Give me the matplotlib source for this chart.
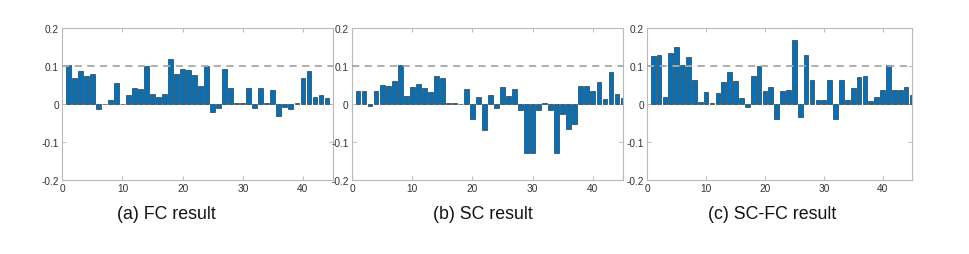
import numpy as np
import matplotlib.pyplot as plt

# values (bar index starts at 1)
fc_vals = [0.103, 0.069, 0.088, 0.073, 0.080, -0.013, 0.001, 0.012, 0.057, 0.0,
           0.025, 0.042, 0.041, 0.101, 0.027, 0.020, 0.027, 0.120, 0.080, 0.094,
           0.091, 0.076, 0.049, 0.101, -0.022, -0.011, 0.094, 0.042, 0.002, 0.002,
           0.042, -0.010, 0.042, 0.003, 0.037, -0.030, -0.008, -0.013, 0.002, 0.069,
           0.087, 0.019, 0.024, 0.017]
sc_vals = [0.035, 0.035, -0.005, 0.035, 0.050, 0.047, 0.061, 0.104, 0.022, 0.044,
           0.052, 0.043, 0.033, 0.073, 0.070, 0.002, 0.002, 0.001, 0.040, -0.040,
           0.020, -0.068, 0.023, -0.011, 0.044, 0.022, 0.040, -0.016, -0.130, -0.130,
           -0.016, 0.003, -0.016, -0.130, -0.027, -0.066, -0.053, 0.048, 0.047, 0.034,
           0.058, 0.014, 0.084, 0.027, 0.016]
scfc_vals = [0.126, 0.130, 0.020, 0.136, 0.151, 0.104, 0.125, 0.064, 0.005, 0.031,
             0.003, 0.030, 0.058, 0.085, 0.060, 0.015, -0.008, 0.073, 0.101, 0.035,
             0.044, -0.039, 0.035, 0.038, 0.169, -0.035, 0.129, 0.063, 0.012, 0.012,
             0.063, -0.039, 0.063, 0.012, 0.043, 0.072, 0.073, 0.007, 0.018, 0.036,
             0.103, 0.038, 0.038, 0.044, 0.023]
captions = ['(a) FC result', '(b) SC result', '(c) SC-FC result']
yticks = [-0.2, -0.1, 0, 0.1, 0.2]
ytick_labels = ['-0.2', '-0.1', '0', '0.1', '0.2']
xticks = [0, 10, 20, 30, 40]

plt.rcParams['font.family'] = ['Liberation Sans', 'DejaVu Sans']

fig = plt.figure(figsize=(9.69, 2.55), dpi=100)

# axes boxes in pixels: left, right (top 29, bottom 181)
boxes = [(62.3, 333), (352, 623), (647.3, 912)]
cap_x = [166, 483, 772]
W, H = 969, 255
series = [fc_vals, sc_vals, scfc_vals]

for (l, r), vals, cap, cx in zip(boxes, series, captions, cap_x):
    ax = fig.add_axes([l / W, 1 - 181 / H, (r - l) / W, (181 - 29.3) / H])
    x = np.arange(1, len(vals) + 1)
    ax.bar(x, vals, width=0.8, color='#0072BD', edgecolor='#1a1a1a', linewidth=0.4, zorder=2)
    ax.axhline(0.1, color='#a8a8a8', linestyle=(0, (4, 3)), linewidth=1.3, zorder=3)
    ax.set_xlim(0, 45)
    ax.set_ylim(-0.2, 0.2)
    ax.set_xticks(xticks)
    ax.set_yticks(yticks)
    ax.set_yticklabels(ytick_labels)
    ax.tick_params(direction='in', length=3, width=0.6, color='#b0b0b0',
                   labelsize=7.3, labelcolor='#333333', top=True, right=True, pad=2.5)
    for s in ax.spines.values():
        s.set_color('#b8b8b8')
        s.set_linewidth(0.8)
    fig.text(cx / W, 1 - 215 / H, cap, ha='center', va='center', fontsize=12.8, color='#111111')

fig.savefig('out.png', dpi=100)
